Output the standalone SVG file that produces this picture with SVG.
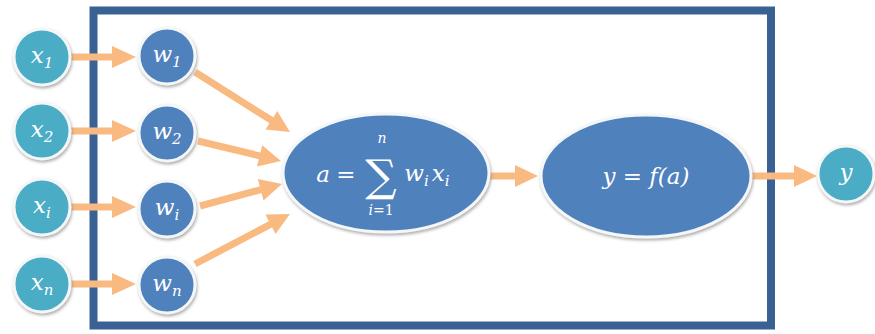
<svg xmlns="http://www.w3.org/2000/svg" width="875" height="334" viewBox="0 0 875 334">
<style>
.in{fill:#4BACC6;stroke:#F4F6F8;stroke-width:3;filter:url(#sh)}
.wt{fill:#4F81BD;stroke:#F4F6F8;stroke-width:3;filter:url(#sh)}
.lbl{font-family:"DejaVu Serif","Liberation Serif",serif;font-style:italic;fill:#FFFFFF;font-size:23px;text-anchor:middle}
.sub{font-size:15px}
.up{font-style:normal}
.sh{stroke:#F9BA82;stroke-width:7;fill:none}
.hd{fill:#F9BA82}
</style>
<defs>
<filter id="sh" x="-20%" y="-20%" width="150%" height="150%">
<feDropShadow dx="1" dy="2" stdDeviation="1.5" flood-color="#7A7A7A" flood-opacity="0.6"/>
</filter>
</defs>
<rect id="frame" x="93.5" y="10.5" width="677.5" height="315" fill="#FFFFFF" stroke="#3A6194" stroke-width="8"/>
<g id="connectors">
<line class="sh" x1="70" y1="57" x2="114" y2="57"/><polygon class="hd" points="112,46 136,57 112,68"/>
<line class="sh" x1="70" y1="131" x2="114" y2="131"/><polygon class="hd" points="112,120 136,131 112,142"/>
<line class="sh" x1="70" y1="207" x2="114" y2="207"/><polygon class="hd" points="112,196 136,207 112,218"/>
<line class="sh" x1="70" y1="284" x2="114" y2="284"/><polygon class="hd" points="112,273 136,284 112,295"/>
<line class="sh" x1="195" y1="72" x2="273" y2="121.3"/><polygon class="hd" points="265.5,129.6 290,132 277.3,110.9"/>
<line class="sh" x1="198" y1="141" x2="261.5" y2="156.3"/><polygon class="hd" points="257.0,166.6 281,161 262.2,145.2"/>
<line class="sh" x1="200" y1="206" x2="262.6" y2="189.2"/><polygon class="hd" points="257.8,179.1 282,184 263.5,200.4"/>
<line class="sh" x1="195" y1="264" x2="272.3" y2="223.3"/><polygon class="hd" points="265.4,214.5 290,214 275.6,233.9"/>
<line class="sh" x1="489" y1="176" x2="517" y2="176"/><polygon class="hd" points="515,165 538,176 515,187"/>
<line class="sh" x1="750" y1="176" x2="796" y2="176"/><polygon class="hd" points="794,165 817,176 794,187"/>
</g>
<g id="x1"><circle class="in" cx="42" cy="57" r="28"/><text class="lbl" x="42" y="63">x<tspan class="sub" dy="5">1</tspan></text></g>
<g id="x2"><circle class="in" cx="42" cy="131" r="28"/><text class="lbl" x="42" y="137">x<tspan class="sub" dy="5">2</tspan></text></g>
<g id="xi"><circle class="in" cx="42" cy="207" r="28"/><text class="lbl" x="42" y="213">x<tspan class="sub" dy="5">i</tspan></text></g>
<g id="xn"><circle class="in" cx="42" cy="284" r="28"/><text class="lbl" x="42" y="290">x<tspan class="sub" dy="5">n</tspan></text></g>
<g id="w1"><circle class="wt" cx="167" cy="56" r="28"/><text class="lbl" x="167" y="62">w<tspan class="sub" dy="5">1</tspan></text></g>
<g id="w2"><circle class="wt" cx="167" cy="133" r="28"/><text class="lbl" x="167" y="139">w<tspan class="sub" dy="5">2</tspan></text></g>
<g id="wi"><circle class="wt" cx="167" cy="209" r="28"/><text class="lbl" x="167" y="215">w<tspan class="sub" dy="5">i</tspan></text></g>
<g id="wn"><circle class="wt" cx="167" cy="285" r="28"/><text class="lbl" x="167" y="291">w<tspan class="sub" dy="5">n</tspan></text></g>
<g id="sum"><ellipse class="wt" cx="386" cy="173" rx="103" ry="59"/>
<text class="lbl" x="323" y="182">a</text>
<text class="lbl up" x="346" y="182">=</text>
<text class="lbl up" x="381" y="191" style="font-size:44px">∑</text>
<text class="lbl" x="382" y="143" style="font-size:14px">n</text>
<text class="lbl" x="381" y="215" style="font-size:14px">i<tspan class="up">=1</tspan></text>
<text class="lbl" x="427" y="181">w<tspan class="sub" dy="5">i</tspan><tspan dy="-5" dx="3">x</tspan><tspan class="sub" dy="5">i</tspan></text>
</g>
<g id="act"><ellipse class="wt" cx="646" cy="176" rx="105" ry="61"/>
<text class="lbl" x="646" y="184">y <tspan class="up">=</tspan> f(a)</text></g>
<g id="y"><circle class="in" cx="846" cy="174" r="28"/><text class="lbl" x="846" y="180">y</text></g>
</svg>
